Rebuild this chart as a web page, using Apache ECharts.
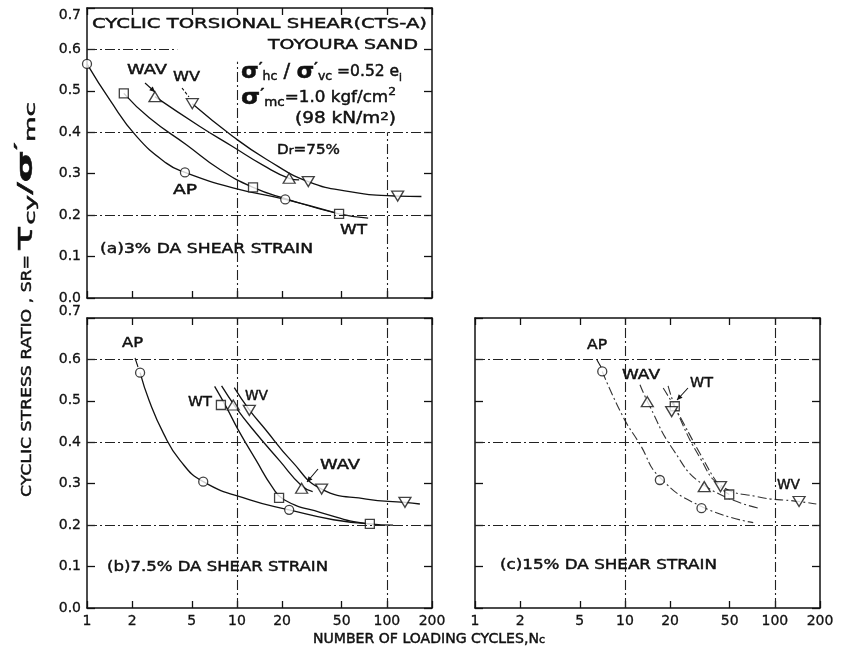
<!DOCTYPE html>
<html>
<head>
<meta charset="utf-8">
<script src="https://cdn.jsdelivr.net/npm/echarts@6/dist/echarts.min.js"></script>
<style>
  html, body { margin: 0; padding: 0; background: #fff; }
  #chart { width: 841px; height: 651px; }
</style>
</head>
<body>
<div id="chart"></div>
<script>
// ---- axes ----
const cycleTicks = [1, 2, 5, 10, 20, 50, 100, 200];
const cycleMax = 200;
const ratioMax = 0.7;
const ratioStep = 0.1;
const gridCycles = [10, 100];
const gridRatios = [0.2, 0.4, 0.6];

// ---- (a) 3% DA shear strain: measured points [N, SR] and faired curves ----
const a_AP = [[1.0, 0.565], [4.5, 0.303], [21, 0.238]];
const a_AP_curve = [[1.0, 0.565], [1.42, 0.478], [2.14, 0.39], [3.4, 0.325], [4.5, 0.303], [9.4, 0.266], [21, 0.238], [45, 0.206]];
const a_WT = [[1.76, 0.494], [12.8, 0.267], [48, 0.203]];
const a_WT_curve = [[1.76, 0.494], [2.6, 0.435], [4.6, 0.37], [7.7, 0.31], [12.8, 0.267], [21, 0.24], [48, 0.203], [75, 0.193]];
const a_WAV = [[2.84, 0.486], [22.3, 0.289]];
const a_WAV_curve = [[2.84, 0.486], [5.66, 0.414], [9.4, 0.365], [15, 0.32], [22.3, 0.289], [26, 0.285]];
const a_WV = [[5.04, 0.469], [29.9, 0.281], [118, 0.246]];
const a_WV_curve = [[5.04, 0.469], [9.4, 0.39], [15.7, 0.335], [29.9, 0.281], [56.5, 0.257], [118, 0.246], [170, 0.245]];

// ---- (b) 7.5% DA shear strain ----
const b_AP = [[2.26, 0.568], [5.96, 0.305], [22.3, 0.237]];
const b_AP_curve = [[2.26, 0.568], [2.6, 0.5], [3.23, 0.422], [4.16, 0.357], [5.96, 0.305], [12.2, 0.261], [22.3, 0.237], [44, 0.213], [77, 0.203]];
const b_WT = [[7.82, 0.49], [19.1, 0.266], [77, 0.203]];
const b_WT_curve = [[7.1, 0.535], [8.5, 0.485], [10.2, 0.43], [13.5, 0.355], [17, 0.295], [20.5, 0.262], [35.8, 0.231], [77, 0.203], [110, 0.2]];
const b_WAV = [[9.45, 0.49], [27, 0.289]];
const b_WAV_curve = [[7.9, 0.536], [9.8, 0.485], [12.5, 0.435], [19.3, 0.355], [27, 0.295], [32, 0.281]];
const b_WV = [[12.1, 0.477], [36.7, 0.287], [132, 0.255]];
const b_WV_curve = [[9.6, 0.532], [12, 0.48], [15.4, 0.432], [23.1, 0.355], [36.7, 0.287], [73, 0.263], [132, 0.255], [166, 0.251]];

// ---- (c) 15% DA shear strain ----
const c_AP = [[7.06, 0.571], [17.1, 0.309], [32.4, 0.241]];
const c_AP_curve = [[7.06, 0.571], [9.7, 0.462], [12.6, 0.395], [17.1, 0.315], [32.4, 0.245], [71.7, 0.206]];
const c_WAV = [[14.1, 0.498], [33.8, 0.293]];
const c_WAV_curve = [[12.6, 0.539], [14.5, 0.49], [21, 0.382], [33.8, 0.296], [77.6, 0.241]];
const c_WT = [[21.5, 0.487], [49.6, 0.274]];
const c_WT_curve = [[18, 0.531], [22, 0.478], [32, 0.37], [43, 0.293], [49.6, 0.274]];
const c_WV = [[20.5, 0.474], [43.4, 0.293], [145, 0.257]];
const c_WV_curve = [[19.4, 0.536], [22.5, 0.47], [32, 0.36], [43.4, 0.296], [75.4, 0.269], [145, 0.257], [189, 0.251]];

// ---- drawing ----
const INK = '#111';
const FAMILY = '"DejaVu Sans", sans-serif';
const LOG = v => Math.log10(v);
const toLog = pts => pts.map(p => [LOG(p[0]), p[1]]);
const tickVals = cycleTicks.map(LOG);

const grids = [
  { left: 87, top: 8, width: 345, height: 290 },   // (a)
  { left: 87, top: 318, width: 345, height: 290 }, // (b)
  { left: 475, top: 318, width: 345, height: 290 } // (c)
];

const xAxes = [], yAxes = [];
grids.forEach((g, i) => {
  const base = {
    gridIndex: i, type: 'value', min: 0, max: LOG(cycleMax),
    axisLine: { show: true, onZero: false, lineStyle: { color: INK, width: 1.5 } },
    axisTick: { show: true, inside: true, length: 7, customValues: tickVals, lineStyle: { color: INK, width: 1.3 } },
    splitLine: { show: false }
  };
  xAxes.push(Object.assign({}, base, {
    position: 'bottom',
    axisLabel: {
      show: i > 0, customValues: tickVals, margin: 6,
      formatter: v => String(Math.round(Math.pow(10, v))),
      color: INK, fontFamily: FAMILY, fontSize: 14,
      textBorderColor: INK, textBorderWidth: 0.3
    }
  }));
  xAxes.push(Object.assign({}, base, { position: 'top', axisLabel: { show: false } }));
  const ybase = {
    gridIndex: i, type: 'value', min: 0, max: ratioMax, interval: ratioStep,
    axisLine: { show: true, onZero: false, lineStyle: { color: INK, width: 1.5 } },
    axisTick: { show: true, inside: true, length: 8, lineStyle: { color: INK, width: 1.3 } },
    splitLine: { show: false }
  };
  yAxes.push(Object.assign({}, ybase, {
    position: 'left',
    axisLabel: {
      show: i < 2, margin: 6, formatter: v => v.toFixed(1),
      color: INK, fontFamily: FAMILY, fontSize: 14,
      textBorderColor: INK, textBorderWidth: 0.3,
      verticalAlignMaxLabel: i === 0 ? 'top' : 'bottom'
    }
  }));
  yAxes.push(Object.assign({}, ybase, { position: 'right', axisLabel: { show: false } }));
});

// dash-dot reference lines at 10 and 100 cycles and SR 0.2 / 0.4 / 0.6
function fullGridLines() {
  return gridCycles.map(n => ({ xAxis: LOG(n) })).concat(gridRatios.map(r => ({ yAxis: r })));
}
// panel (a) has the lines interrupted by the heading block
const gridA = [
  [{ coord: [LOG(1), 0.6] }, { coord: [LOG(4), 0.6] }],
  [{ coord: [LOG(1), 0.4] }, { coord: [LOG(cycleMax), 0.4] }],
  [{ coord: [LOG(1), 0.2] }, { coord: [LOG(cycleMax), 0.2] }],
  [{ coord: [LOG(10), 0] }, { coord: [LOG(10), 0.57] }],
  [{ coord: [LOG(100), 0] }, { coord: [LOG(100), 0.4] }]
];

function gridSeries(i, lines) {
  return {
    type: 'line', xAxisIndex: 2 * i, yAxisIndex: 2 * i, data: [], z: 1, silent: true,
    markLine: {
      symbol: ['none', 'none'], silent: true, animation: false,
      label: { show: false },
      lineStyle: { color: '#222', width: 1.1, type: [10, 3, 2, 3] },
      emphasis: { disabled: true },
      data: lines
    }
  };
}

const SYMBOLS = {
  AP: { symbol: 'circle', size: 9, rotate: 0 },
  WT: { symbol: 'rect', size: 9, rotate: 0 },
  WAV: { symbol: 'triangle', size: [12, 10], rotate: 0 },
  WV: { symbol: 'triangle', size: [12, 10], rotate: 180 }
};

function methodSeries(i, name, marks, curve, dashed) {
  const s = SYMBOLS[name];
  return [
    {
      type: 'line', name, xAxisIndex: 2 * i, yAxisIndex: 2 * i,
      data: toLog(curve), smooth: 0.5,
      symbol: 'none', showSymbol: false, clip: false, silent: true, z: 3,
      lineStyle: { color: dashed ? '#333' : INK, width: dashed ? 1.1 : 1.3, type: dashed ? [9, 3, 2, 3] : 'solid' }
    },
    {
      type: 'scatter', name, xAxisIndex: 2 * i, yAxisIndex: 2 * i,
      data: toLog(marks), symbol: s.symbol, symbolSize: s.size, symbolRotate: s.rotate,
      clip: false, silent: true, z: 4,
      itemStyle: { color: '#fff', borderColor: INK, borderWidth: 1.3 }
    }
  ];
}

const series = [
  gridSeries(0, gridA),
  gridSeries(1, fullGridLines()),
  gridSeries(2, fullGridLines()),
  ...methodSeries(0, 'AP', a_AP, a_AP_curve),
  ...methodSeries(0, 'WT', a_WT, a_WT_curve),
  ...methodSeries(0, 'WAV', a_WAV, a_WAV_curve),
  ...methodSeries(0, 'WV', a_WV, a_WV_curve),
  ...methodSeries(1, 'AP', b_AP, b_AP_curve),
  ...methodSeries(1, 'WT', b_WT, b_WT_curve),
  ...methodSeries(1, 'WAV', b_WAV, b_WAV_curve),
  ...methodSeries(1, 'WV', b_WV, b_WV_curve),
  ...methodSeries(2, 'AP', c_AP, c_AP_curve, true),
  ...methodSeries(2, 'WT', c_WT, c_WT_curve, true),
  ...methodSeries(2, 'WAV', c_WAV, c_WAV_curve, true),
  ...methodSeries(2, 'WV', c_WV, c_WV_curve, true)
];

// ---- text helpers: stretch a label to span [x0, x1] ----
const ctx2d = document.createElement('canvas').getContext('2d');
const STROKE_W = 0.45;
function fontOf(size, weight) { return `${weight || 'normal'} ${size}px ${FAMILY}`; }

function spanText(text, x0, x1, y, size, extra) {
  const font = fontOf(size || 14);
  ctx2d.font = font;
  const w = ctx2d.measureText(text).width;
  return Object.assign({
    type: 'text', x: x0, y, scaleX: (x1 - x0) / w, silent: true, z: 10,
    style: { text, font, fill: INK, stroke: INK, lineWidth: STROKE_W, align: 'left', verticalAlign: 'middle' }
  }, extra || {});
}

// parts: [text, size, weight, verticalAlign]
function richSpan(parts, x0, x1, y, extra) {
  let w = 0, str = '';
  const rich = {};
  parts.forEach((p, k) => {
    const [t, size, weight, va] = p;
    ctx2d.font = fontOf(size, weight);
    w += ctx2d.measureText(t).width;
    rich['p' + k] = {
      fontSize: size, fontWeight: weight || 'normal', fontFamily: FAMILY,
      fill: INK, stroke: INK, lineWidth: STROKE_W, verticalAlign: va || 'middle'
    };
    str += `{p${k}|${t}}`;
  });
  return Object.assign({
    type: 'text', x: x0, y, scaleX: (x1 - x0) / w, silent: true, z: 10,
    style: { text: str, rich, fill: INK, align: 'left', verticalAlign: 'middle' }
  }, extra || {});
}

function leader(x1, y1, x2, y2, dashed) {
  return {
    type: 'line', silent: true, z: 10,
    shape: { x1, y1, x2, y2 },
    style: { stroke: INK, lineWidth: 1.1, lineDash: dashed ? [3, 2] : null }
  };
}
function arrow(x1, y1, x2, y2) {
  const a = Math.atan2(y2 - y1, x2 - x1), L = 6, s = 0.45;
  return [
    leader(x1, y1, x2, y2),
    {
      type: 'polygon', silent: true, z: 10,
      shape: { points: [[x2, y2],
        [x2 - L * Math.cos(a - s), y2 - L * Math.sin(a - s)],
        [x2 - L * Math.cos(a + s), y2 - L * Math.sin(a + s)]] },
      style: { fill: INK }
    }
  ];
}

const graphics = [
  // heading of panel (a)
  spanText('CYCLIC TORSIONAL SHEAR(CTS-A)', 92, 427, 24, 14),
  spanText('TOYOURA SAND', 268, 418, 45, 14),
  richSpan([['σ', 22, 'bold'], ['′', 14, 'bold', 'top'], ['hc', 12, 'normal', 'bottom'],
            [' / ', 19], ['σ', 22, 'bold'], ['′', 14, 'bold', 'top'], ['vc', 12, 'normal', 'bottom'],
            [' =0.52 e', 15], ['i', 10, 'normal', 'bottom']], 241, 402, 72),
  richSpan([['σ', 22, 'bold'], ['′', 14, 'bold', 'top'], ['mc', 12, 'normal', 'bottom'],
            ['=1.0 kgf/cm', 15], ['2', 11, 'normal', 'top']], 241, 396, 98),
  richSpan([['(98 kN/m', 15], ['2', 11, 'normal', 'top'], [')', 15]], 295, 396, 119),
  richSpan([['D', 14], ['r', 11, 'normal', 'bottom'], ['=75%', 14]], 277, 340, 150),

  // method labels, panel (a)
  spanText('WAV', 127, 167, 70),
  spanText('WV', 173, 200, 77),
  spanText('AP', 173, 197, 190),
  spanText('WT', 340, 367, 230),
  spanText('(a)3% DA SHEAR STRAIN', 100, 313, 249),
  ...arrow(145, 83, 155, 92),
  leader(182, 88, 189, 97, true),

  // panel (b)
  spanText('AP', 122, 143, 343),
  leader(135, 358, 138, 367),
  spanText('WT', 188, 212, 402),
  spanText('WV', 245, 268, 396),
  spanText('WAV', 320, 360, 465),
  ...arrow(318, 469, 307, 482),
  spanText('(b)7.5% DA SHEAR STRAIN', 107, 328, 567),

  // panel (c)
  spanText('AP', 587, 607, 345),
  leader(597, 360, 601, 367),
  spanText('WAV', 622, 660, 375),
  spanText('WT', 690, 713, 383),
  ...arrow(688, 388, 677, 400),
  spanText('WV', 777, 800, 485),
  spanText('(c)15% DA SHEAR STRAIN', 500, 717, 565),

  // axis titles
  richSpan([['NUMBER OF LOADING CYCLES,N', 14], ['c', 11, 'normal', 'bottom']], 313, 545, 639),
  spanText('CYCLIC STRESS RATIO , SR=', 0, 242, 0, 14, { x: 27, y: 497, rotation: Math.PI / 2 }),
  richSpan([['τ', 24], ['cy', 14, 'normal', 'bottom'], ['/', 20], ['σ', 22, 'bold'],
            ['′', 16, 'bold', 'top'], ['mc', 14, 'normal', 'bottom']], 0, 150, 0,
           { x: 26, y: 252, rotation: Math.PI / 2 })
];

const chart = echarts.init(document.getElementById('chart'), null, { renderer: 'canvas' });
chart.setOption({
  animation: false,
  backgroundColor: '#fff',
  grid: grids,
  xAxis: xAxes,
  yAxis: yAxes,
  series,
  graphic: { elements: graphics }
});
</script>
</body>
</html>
